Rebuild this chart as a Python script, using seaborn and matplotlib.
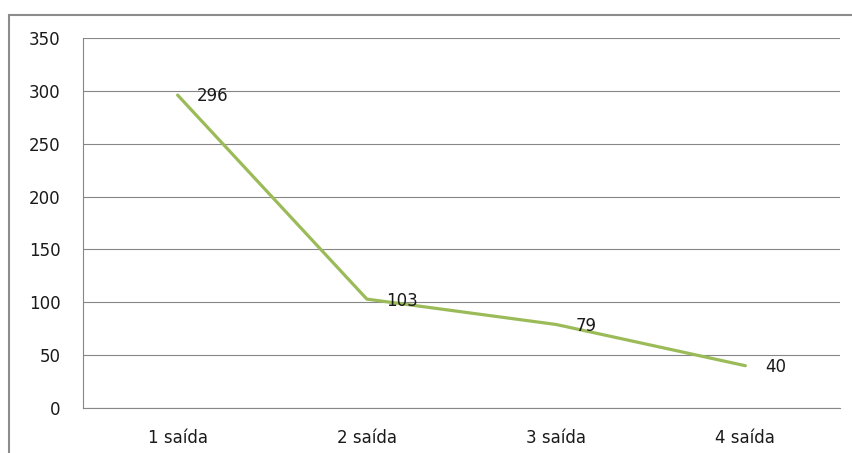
import matplotlib
matplotlib.use("Agg")
import matplotlib.pyplot as plt
from matplotlib.patches import Rectangle
import numpy as np
import pandas as pd
import seaborn as sns

# data
categories = ["1 saída", "2 saída", "3 saída", "4 saída"]
values = [296, 103, 79, 40]

LINE = "#9BBB59"
GRID = "#868686"

sns.set_style("white")
plt.rcParams["font.family"] = ["DejaVu Sans"]

df = pd.DataFrame({"cat": categories, "val": values})

fig = plt.figure(figsize=(8.53, 4.53), dpi=100)
ax = fig.add_axes([83 / 853, 1 - 408 / 453, (840 - 83) / 853, (408 - 38) / 453])

sns.lineplot(data=df, x="cat", y="val", ax=ax, color=LINE, linewidth=2.3,
             sort=False)

for i, v in enumerate(values):
    ax.annotate(str(v), (i, v), xytext=(14, -1), textcoords="offset points",
                ha="left", va="center", fontsize=12, color="#1a1a1a")

ax.set_xlim(-0.5, len(categories) - 0.5)
ax.set_ylim(0, 350)
ax.set_yticks(np.arange(0, 351, 50))
ax.set_xticks(range(len(categories)))
ax.set_xticklabels(categories)
ax.set_xticks(np.arange(-0.5, len(categories), 1), minor=True)
ax.tick_params(axis="x", which="major", length=0, pad=15, labelsize=12,
               labelcolor="#1a1a1a")
ax.tick_params(axis="x", which="minor", length=5, color=GRID, width=0.8, direction="out")
ax.tick_params(axis="y", length=6, color=GRID, width=0.8, direction="out",
               pad=10, labelsize=12, labelcolor="#1a1a1a")
ax.set_xlabel("")
ax.set_ylabel("")

ax.yaxis.grid(True, color=GRID, linewidth=0.8)
ax.set_axisbelow(True)
for side in ["top", "right"]:
    ax.spines[side].set_visible(False)
for side in ["left", "bottom"]:
    ax.spines[side].set_color(GRID)
    ax.spines[side].set_linewidth(0.8)

# outer chart border
fig.patches.append(Rectangle((9 / 853, -0.1), 1.2, 1 - 15 / 453 + 0.1,
                             transform=fig.transFigure, fill=False,
                             edgecolor="#8c8c8c", linewidth=1.5))

fig.savefig("out.png", dpi=100)
